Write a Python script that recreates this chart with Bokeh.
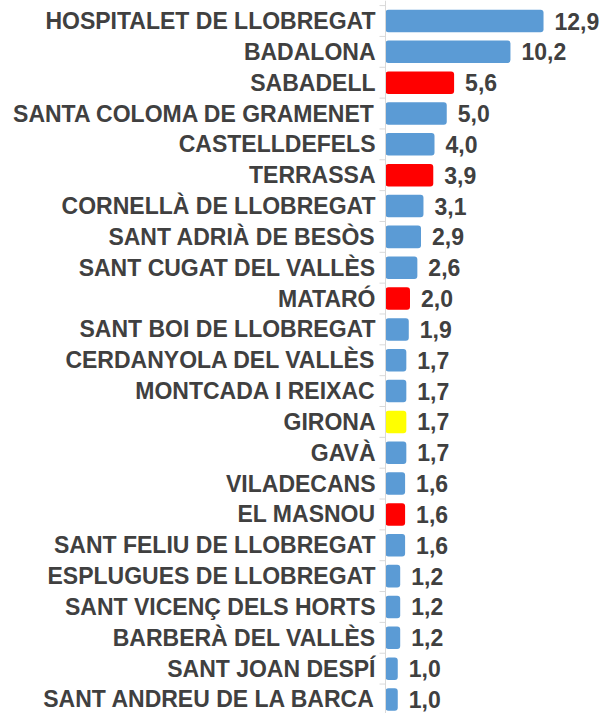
from bokeh.plotting import figure
from bokeh.models import ColumnDataSource, Range1d, Span
from bokeh.core.properties import value
from bokeh.embed import file_html
from bokeh.resources import INLINE

# ---- data ----
names = [
    "HOSPITALET DE LLOBREGAT", "BADALONA", "SABADELL", "SANTA COLOMA DE GRAMENET",
    "CASTELLDEFELS", "TERRASSA", "CORNELLÀ DE LLOBREGAT", "SANT ADRIÀ DE BESÒS",
    "SANT CUGAT DEL VALLÈS", "MATARÓ", "SANT BOI DE LLOBREGAT", "CERDANYOLA DEL VALLÈS",
    "MONTCADA I REIXAC", "GIRONA", "GAVÀ", "VILADECANS", "EL MASNOU",
    "SANT FELIU DE LLOBREGAT", "ESPLUGUES DE LLOBREGAT", "SANT VICENÇ DELS HORTS",
    "BARBERÀ DEL VALLÈS", "SANT JOAN DESPÍ", "SANT ANDREU DE LA BARCA",
]
values = [12.9, 10.2, 5.6, 5.0, 4.0, 3.9, 3.1, 2.9, 2.6, 2.0, 1.9, 1.7, 1.7, 1.7,
          1.7, 1.6, 1.6, 1.6, 1.2, 1.2, 1.2, 1.0, 1.0]
highlight = ["blue", "blue", "red", "blue", "blue", "red", "blue", "blue", "blue", "red",
             "blue", "blue", "blue", "yellow", "blue", "blue", "red", "blue", "blue",
             "blue", "blue", "blue", "blue"]

palette = {"blue": "#5B9BD5", "red": "#FF0000", "yellow": "#FFFF00"}
TEXT = "#404040"
AXIS = "#D9D9D9"

W, H = 603, 713
x0_px = 385.0          # pixel position of value 0
px_per_unit = 12.25
first_row_px = 20.5
row_px = 30.84

n = len(names)
rows = list(range(n))
src = ColumnDataSource(dict(
    y=rows, v=values, name=names,
    color=[palette[c] for c in highlight],
    label=[f"{v:.1f}".replace(".", ",") for v in values],
))

y_top = -first_row_px / row_px
y_bottom = y_top + H / row_px
p = figure(width=W, height=H, output_backend="svg", toolbar_location=None,
           x_range=Range1d(-x0_px / px_per_unit, (W - x0_px) / px_per_unit),
           y_range=Range1d(y_bottom, y_top),
           min_border=0, outline_line_color=None)
p.axis.visible = False
p.grid.visible = False

p.hbar(y="y", left=0, right="v", height=0.73, fill_color="color", line_color=None,
       border_radius=3, source=src)

# axis line and tick marks at category boundaries
p.add_layout(Span(location=0, dimension="height", line_color=AXIS, line_width=1))
bounds = [r - 0.5 for r in rows] + [n - 0.5]
tick_len = 6 / px_per_unit
p.segment(x0=[-tick_len] * len(bounds), x1=[0] * len(bounds), y0=bounds, y1=bounds,
          line_color=AXIS, line_width=1)

p.text(x=0, y="y", text="name", source=src, x_offset=-10, text_align="right",
       text_baseline="middle", text_font=value("Liberation Sans"), text_font_style="bold",
       text_font_size="23px", text_color=TEXT)
p.text(x="v", y="y", text="label", source=src, x_offset=11, text_align="left",
       text_baseline="middle", text_font=value("Liberation Sans"), text_font_style="bold",
       text_font_size="23px", text_color=TEXT)

open("out.html", "w").write(file_html(p, INLINE))
